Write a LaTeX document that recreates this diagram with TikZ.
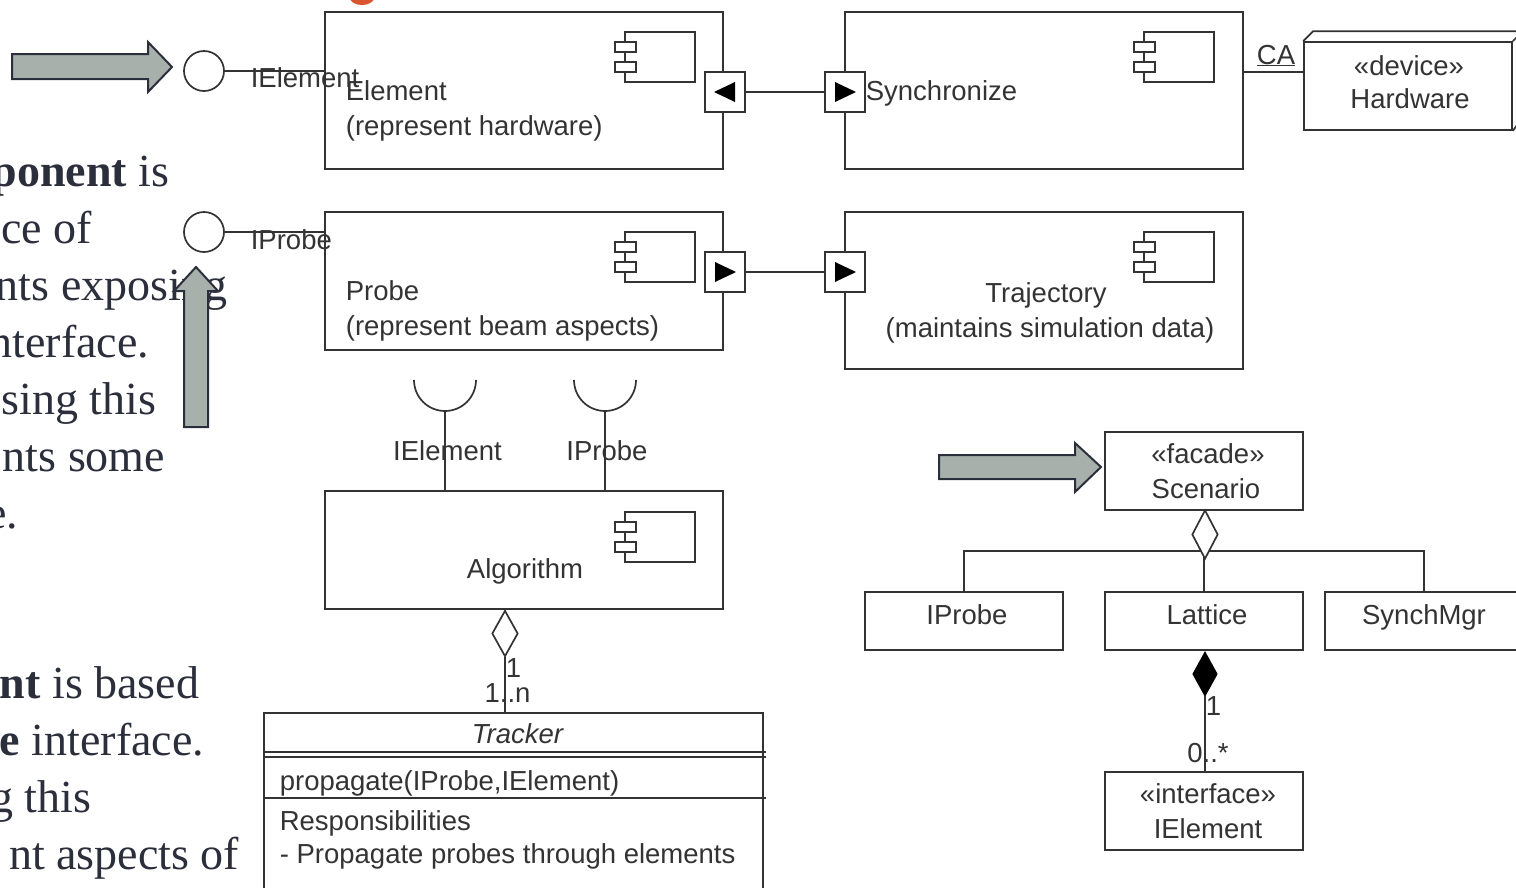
\documentclass[tikz,border=0pt]{standalone}
\usepackage{fontspec}
\setmainfont{Liberation Sans}
\newfontfamily\proseserif{Liberation Serif}
\usetikzlibrary{shapes.geometric,calc}

\definecolor{ink}{HTML}{333333}
\definecolor{slate}{HTML}{2B2E3B}
\definecolor{sage}{HTML}{A7B0AA}
\definecolor{flame}{HTML}{D9552F}

% small UML component glyph: #1,#2 = top-left corner of its body
\newcommand\umlicon[2]{%
  \draw[ink] (#1,#2) rectangle ++(70,50);
  \draw[ink,fill=white] (#1-10,#2+10) rectangle ++(21,10);
  \draw[ink,fill=white] (#1-10,#2+30) rectangle ++(21,10);
}

\begin{document}
\begin{tikzpicture}[x=1pt,y=-1pt,line width=1.7pt,
  box/.style={draw=ink,inner sep=0pt,line width=1.7pt},
  port/.style={draw=ink,fill=white,inner sep=0pt,minimum size=40pt,line width=1.7pt},
  ball/.style={draw=ink,circle,inner sep=0pt,minimum size=40pt,line width=1.7pt},
  lbl/.style={text=ink,inner sep=0pt,font=\fontsize{27.5}{33}\selectfont},
  prose/.style={text=slate,inner sep=0pt,anchor=base east,font=\proseserif\fontsize{46}{57}\selectfont},
  blockarrow/.style={fill=sage,draw=slate,line width=2pt,line join=miter},
  hollowdiamond/.style={diamond,draw=ink,fill=white,inner sep=0pt,line width=1.7pt},
  filleddiamond/.style={diamond,draw=black,fill=black,inner sep=0pt,line width=1.7pt},
  wire/.style={draw=ink,line width=1.7pt}]
\useasboundingbox (0,0) rectangle (1516,887);
\clip (0,0) rectangle (1516,887);

% edge of the orange heading above the diagram
\fill[flame] (362,-2) ellipse [x radius=12pt, y radius=7pt];

% explanatory text on the left
\node[prose] (p1) at (170,186) {\textbf{ponent} is};
\node[prose] (p2) at (93,243) {ce of};
\node[prose] (p3) at (228,300) {nts exposing};
\node[prose] (p4) at (150,357) {nterface.};
\node[prose] (p5) at (157,414) {sing this};
\node[prose] (p6) at (166,471) {nts some};
\node[prose] (p7) at (19,528) {e.};
\node[prose] (p8) at (200,698) {\textbf{nt} is based};
\node[prose] (p9) at (205,755) {\textbf{e} interface.};
\node[prose] (p10) at (92,812) {g this};
\node[prose] (p11) at (240,869) {nt aspects of};

% components
\node[box,minimum width=398pt,minimum height=157pt] (element) at (524,90.5) {};
\node[box,minimum width=398pt,minimum height=157pt] (sync) at (1044,90.5) {};
\node[box,minimum width=398pt,minimum height=138pt] (probe) at (524,281) {};
\node[box,minimum width=398pt,minimum height=157pt] (traj) at (1044,290.5) {};
\node[box,minimum width=398pt,minimum height=118pt] (alg) at (524,550) {};
\umlicon{625}{32}
\umlicon{1144}{32}
\umlicon{625}{232}
\umlicon{1144}{232}
\umlicon{625}{512}

\node[lbl,anchor=base west] (elname) at (345,100) {Element};
\node[lbl,anchor=base west] (eldesc) at (345,135) {(represent hardware)};
\node[lbl,anchor=base west] (syname) at (865,100) {Synchronize};
\node[lbl,anchor=base west] (prname) at (345,300) {Probe};
\node[lbl,anchor=base west] (prdesc) at (345,335) {(represent beam aspects)};
\node[lbl,anchor=base] (trname) at (1046,302) {Trajectory};
\node[lbl,anchor=base] (trdesc) at (1050,337) {(maintains simulation data)};
\node[lbl,anchor=base] (alname) at (525,578) {Algorithm};

% provided interfaces (lollipops)
\node[ball] (ielball) at (204,71) {};
\node[ball] (iprball) at (204,232) {};
\draw[wire] (ielball.east) -- (ielball.east -| element.west);
\draw[wire] (iprball.east) -- (iprball.east -| probe.west);
\node[lbl,anchor=base west] (ielname) at (250,87) {IElement};
\node[lbl,anchor=base west] (iprname) at (250,249) {IProbe};

% ports and their links
\node[port] (eport) at (725,92) {};
\node[port] (sport) at (845,92) {};
\node[port] (pport) at (725,272) {};
\node[port] (tport) at (845,272) {};
\fill[black] ($(eport.center)+(-11,0)$) -- ++(21,-10) -- ++(0,20) -- cycle;
\fill[black] ($(sport.center)+(11,0)$) -- ++(-21,-10) -- ++(0,20) -- cycle;
\fill[black] ($(pport.center)+(11,0)$) -- ++(-21,-10) -- ++(0,20) -- cycle;
\fill[black] ($(tport.center)+(11,0)$) -- ++(-21,-10) -- ++(0,20) -- cycle;
\draw[wire] (eport.east) -- (sport.west);
\draw[wire] (pport.east) -- (tport.west);

% device node
\node[box,minimum width=208pt,minimum height=88pt,fill=white] (hw) at (1408,86) {};
\draw[ink,line join=miter] (hw.north west) -- ++(10,-10) -- ++(208,0) -- ++(0,88) -- (hw.south east);
\draw[ink] (hw.north east) -- ++(10,-10);
\node[lbl,anchor=base] (hwst) at (1409,75) {«device»};
\node[lbl,anchor=base] (hwname) at (1410,108) {Hardware};
\coordinate (caend) at (1304,72);
\draw[wire] (caend -| sync.east) -- (caend);
\node[lbl,anchor=base] (ca) at (1276,64) {\underline{CA}};

% required interfaces of Algorithm (sockets)
\coordinate (sockE) at (445,411);
\coordinate (sockP) at (605,411);
\draw[ink] (414,380) arc[start angle=180,end angle=360,radius=31pt];
\draw[ink] (574,380) arc[start angle=180,end angle=360,radius=31pt];
\draw[wire] (sockE) -- (sockE |- alg.north);
\draw[wire] (sockP) -- (sockP |- alg.north);
\node[lbl,anchor=base] (sockEname) at (447.5,460) {IElement};
\node[lbl,anchor=base] (sockPname) at (607,460) {IProbe};

% Tracker class
\node[box,minimum width=499pt,minimum height=190pt,anchor=north] (tracker) at (513.5,712) {};
\draw[ink] (264,752) -- (766,752);
\draw[ink] (264,757) -- (766,757);
\draw[ink] (264,798) -- (766,798);
\node[lbl,anchor=base] (trkname) at (517.5,743) {\itshape Tracker};
\node[lbl,anchor=base west] (trkop) at (279,790) {propagate(IProbe,IElement)};
\node[lbl,anchor=base west] (trkresp) at (279,830) {Responsibilities};
\node[lbl,anchor=base west] (trkitem) at (279,863) {- Propagate probes through elements};

\node[hollowdiamond,minimum width=26pt,minimum height=46pt,aspect=0.57] (agg1) at (505,633.5) {};
\draw[wire] (agg1.south) -- (agg1.south |- tracker.north);
\node[lbl,anchor=base west] (m1) at (505,677) {1};
\node[lbl,anchor=base] (m2) at (507.5,702) {1..n};

% facade and its parts
\node[box,minimum width=198pt,minimum height=78pt] (scen) at (1204,471) {};
\node[lbl,anchor=base] (scst) at (1208,463) {«facade»};
\node[lbl,anchor=base] (scname) at (1206,498) {Scenario};
\node[box,minimum width=198pt,minimum height=58pt] (iprcls) at (964,621) {};
\node[box,minimum width=198pt,minimum height=58pt] (latt) at (1204,621) {};
\node[box,minimum width=198pt,minimum height=58pt] (smgr) at (1424,621) {};
\node[lbl,anchor=base] (iprclsname) at (967,624) {IProbe};
\node[lbl,anchor=base] (lattname) at (1207,624) {Lattice};
\node[lbl,anchor=base] (smgrname) at (1424,624) {SynchMgr};
\draw[wire] (iprcls.north) -- ++(0,-40) -| (smgr.north);
\draw[wire] (latt.north) -- ++(0,-40);
\node[hollowdiamond,minimum width=26pt,minimum height=49pt,aspect=0.53] (agg2) at (1205,534.5) {};

\node[box,minimum width=198pt,minimum height=78pt] (iface) at (1204,811) {};
\node[lbl,anchor=base] (ifst) at (1208,803) {«interface»};
\node[lbl,anchor=base] (ifname) at (1208,838) {IElement};
\node[filleddiamond,minimum width=24pt,minimum height=43pt,aspect=0.56] (comp) at (1205,674) {};
\draw[wire] (comp.south) -- (comp.south |- iface.north);
\node[lbl,anchor=base west] (m3) at (1205,715) {1};
\node[lbl,anchor=base] (m4) at (1208,762) {0..*};

% highlight arrows
\draw[blockarrow] (12,54) -- (148,54) -- (148,42) -- (172,67) -- (148,92) -- (148,79) -- (12,79) -- cycle;
\draw[blockarrow] (184,427) -- (184,291) -- (174,291) -- (196,267) -- (218,291) -- (208,291) -- (208,427) -- cycle;
\draw[blockarrow] (939,455) -- (1075,455) -- (1075,443) -- (1101,467) -- (1075,492) -- (1075,479) -- (939,479) -- cycle;
\end{tikzpicture}
\end{document}
